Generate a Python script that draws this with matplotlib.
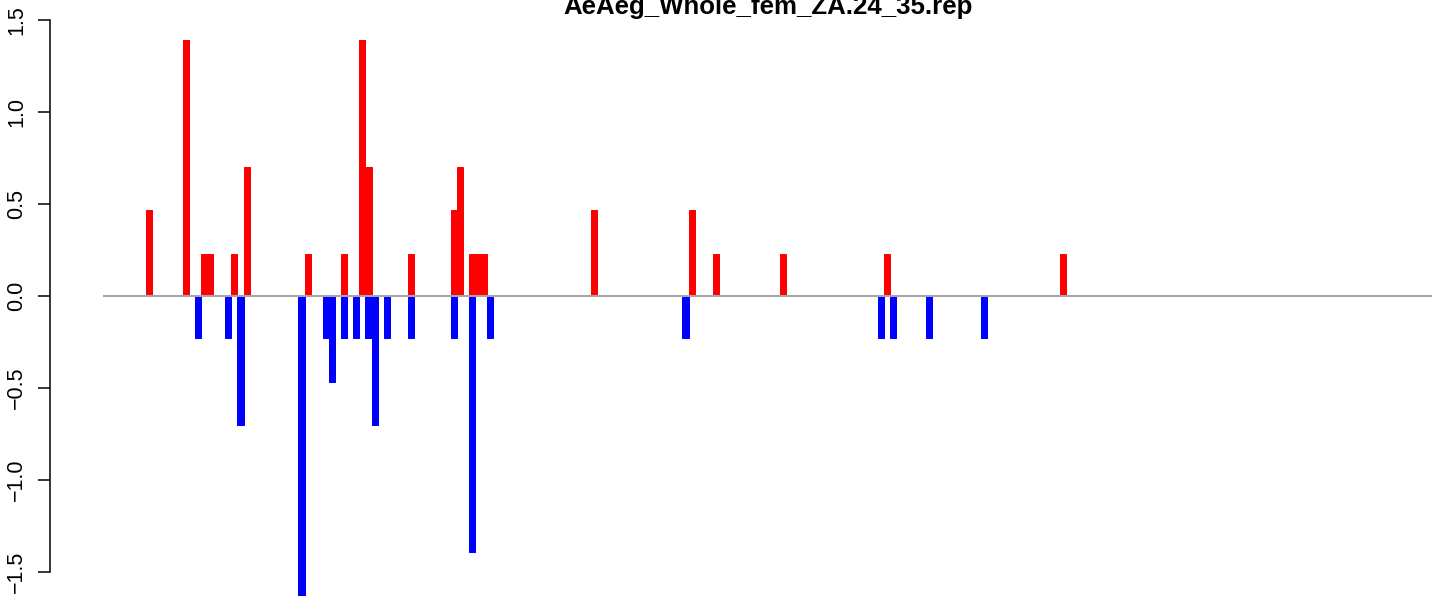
import matplotlib
matplotlib.use("Agg")
import matplotlib.pyplot as plt
import numpy as np

# ---- data (bins 1..218) ----
n_bins = 218
title = "AeAeg_Whole_fem_ZA.24_35.rep"

pos_bins = [8, 14, 17, 18, 22, 24, 34, 40, 43, 44, 51, 58, 59, 61, 62, 63,
            81, 97, 101, 112, 129, 158]
pos_vals = [0.47, 1.39, 0.23, 0.23, 0.23, 0.70, 0.23, 0.23, 1.39, 0.70, 0.23,
            0.47, 0.70, 0.23, 0.23, 0.23, 0.47, 0.47, 0.23, 0.23, 0.23, 0.23]

neg_bins = [16, 21, 23, 33, 37, 38, 40, 42, 44, 45, 47, 51, 58, 61, 64,
            96, 128, 130, 136, 145]
neg_vals = [-0.23, -0.23, -0.70, -1.63, -0.23, -0.47, -0.23, -0.23, -0.23,
            -0.70, -0.23, -0.23, -0.23, -1.39, -0.23, -0.23, -0.23, -0.23,
            -0.23, -0.23]

yticks = [-1.5, -1.0, -0.5, 0.0, 0.5, 1.0, 1.5]

# ---- figure ----
W, H, DPI = 1444, 596, 100
fig = plt.figure(figsize=(W / DPI, H / DPI), dpi=DPI)
plt.rcParams['font.family'] = ['Liberation Sans', 'DejaVu Sans']

# plot region in pixels (R-style with 4% padding, partially outside image)
xl_px, xr_px = 50.2, 1485.4
pad = 0.04 * n_bins
ax = fig.add_axes([xl_px / W, 0, (xr_px - xl_px) / W, 1])
ax.set_xlim(-pad, n_bins + pad)
zero_px, px_per_unit = 296.0, 184.0
ax.set_ylim(-(H - zero_px) / px_per_unit, zero_px / px_per_unit)
ax.patch.set_alpha(0)

lw_border = 0.72
ax.bar(np.array(pos_bins) - 0.5, pos_vals, width=1.0, color='#FF0000',
       edgecolor='#FF0000', linewidth=lw_border, zorder=2)
ax.bar(np.array(neg_bins) - 0.5, neg_vals, width=1.0, color='#0000FF',
       edgecolor='#0000FF', linewidth=lw_border, zorder=2)
ax.plot([0, n_bins], [0, 0], color='#A6A6A6', linewidth=1.5,
        solid_capstyle='butt', zorder=3)

for s in ['top', 'right', 'bottom']:
    ax.spines[s].set_visible(False)
ax.spines['left'].set_bounds(-1.5, 1.5)
ax.spines['left'].set_linewidth(1.1)
ax.set_xticks([])
ax.set_yticks(yticks)
ax.set_yticklabels([f"{v:.1f}".replace('-', '\u2212') for v in yticks],
                   rotation=90, va='center', fontsize=15.5)
ax.tick_params(axis='y', length=8.6, width=1.1, pad=8, direction='out')

fig.text(767.8 / W, 1 - 14.0 / H, title, ha='center', va='baseline',
         fontsize=18.6, fontweight='bold')

fig.savefig("out.png", dpi=DPI)
